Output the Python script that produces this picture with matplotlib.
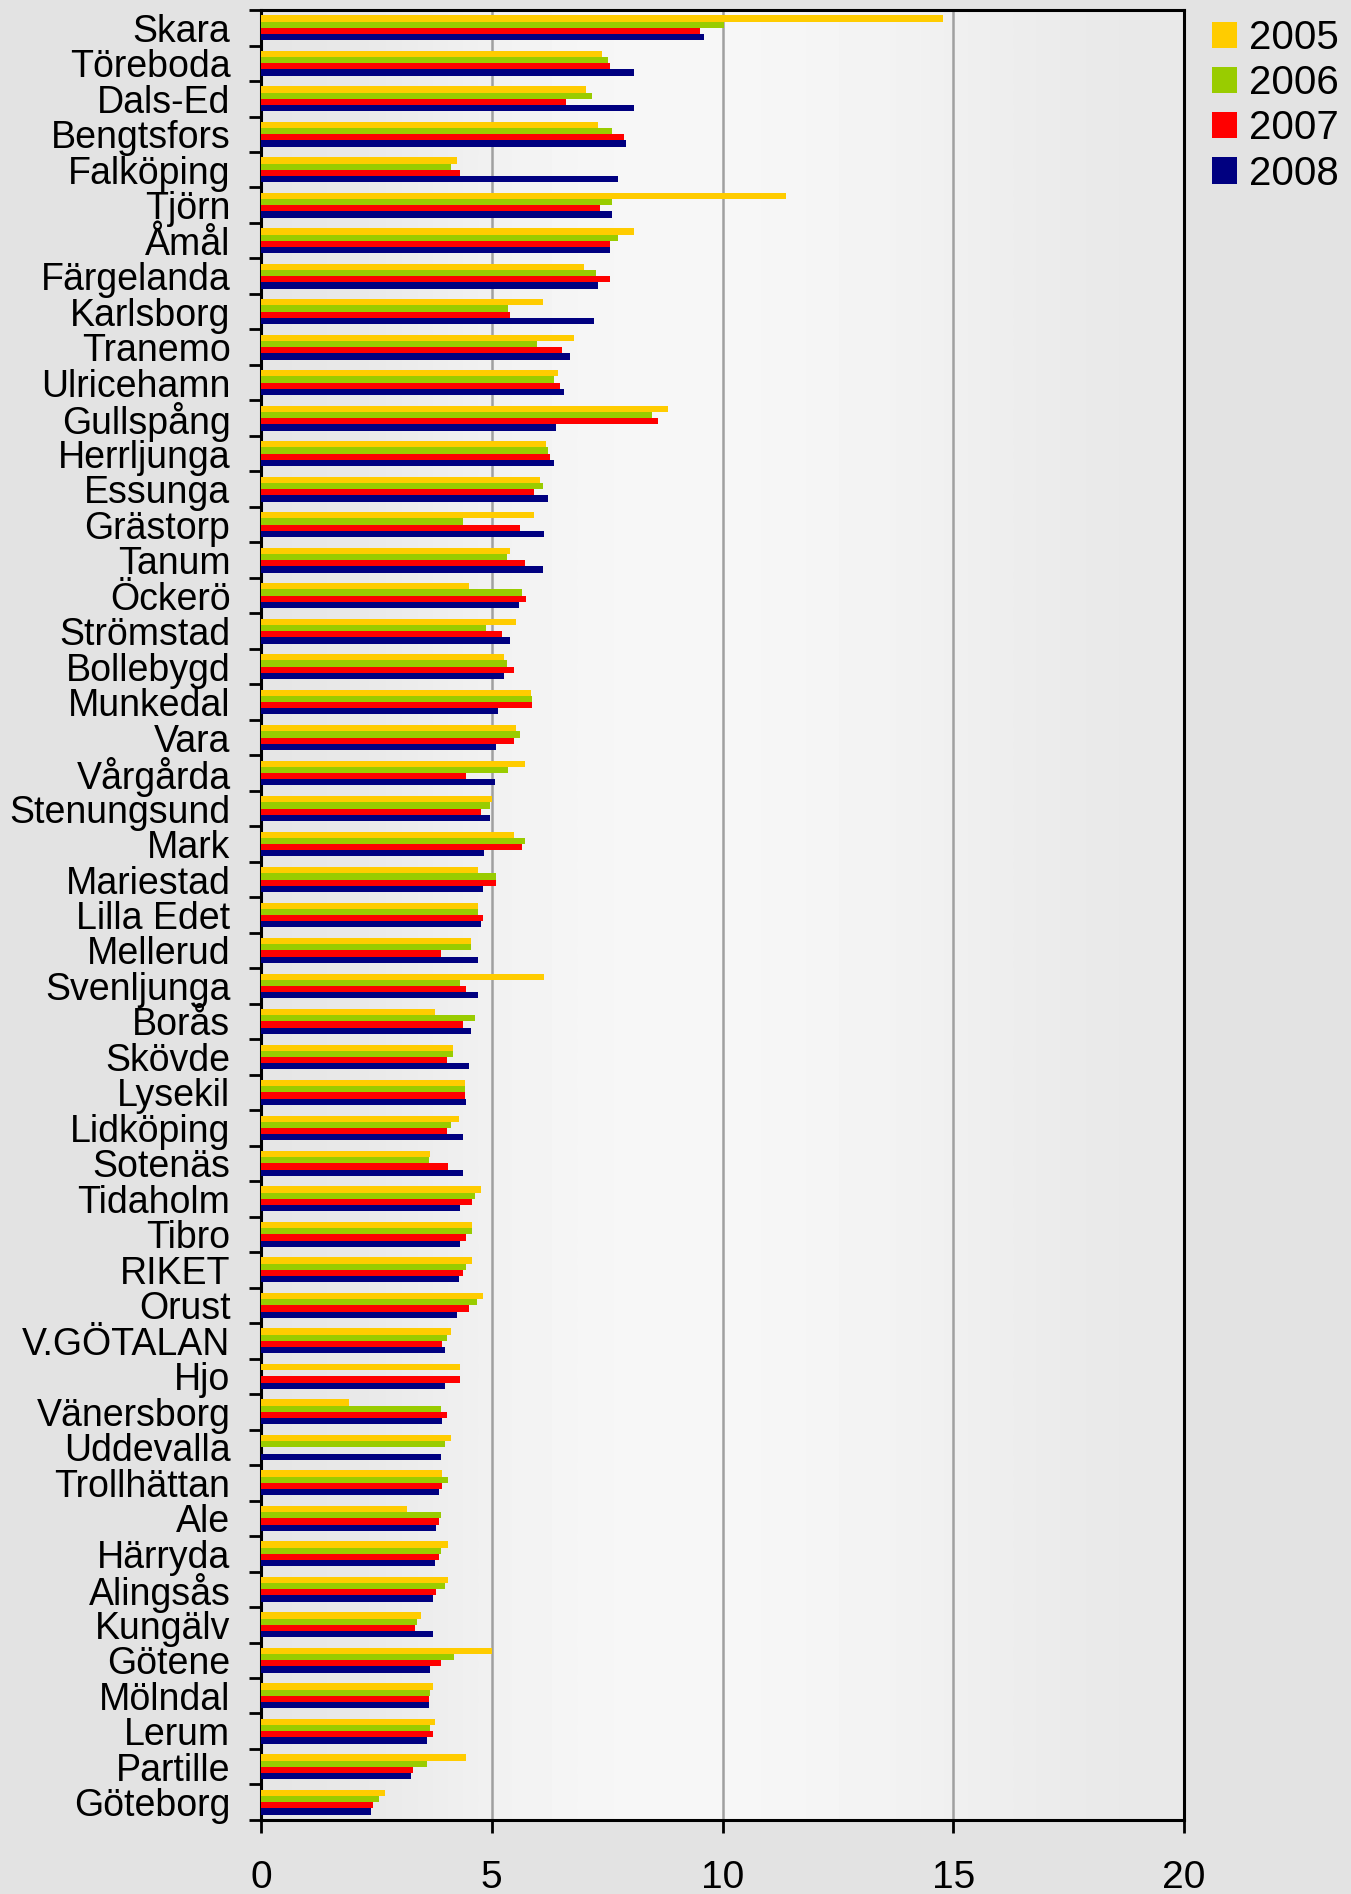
import matplotlib.pyplot as plt
import numpy as np

# Kommuner, top to bottom as in the chart
kommuner = ["Skara", "Töreboda", "Dals-Ed", "Bengtsfors", "Falköping", "Tjörn", "Åmål",
            "Färgelanda", "Karlsborg", "Tranemo", "Ulricehamn", "Gullspång", "Herrljunga",
            "Essunga", "Grästorp", "Tanum", "Öckerö", "Strömstad", "Bollebygd", "Munkedal",
            "Vara", "Vårgårda", "Stenungsund", "Mark", "Mariestad", "Lilla Edet", "Mellerud",
            "Svenljunga", "Borås", "Skövde", "Lysekil", "Lidköping", "Sotenäs", "Tidaholm",
            "Tibro", "RIKET", "Orust", "V.GÖTALAN", "Hjo", "Vänersborg", "Uddevalla",
            "Trollhättan", "Ale", "Härryda", "Alingsås", "Kungälv", "Götene", "Mölndal",
            "Lerum", "Partille", "Göteborg"]

v2005 = [14.78, 7.39, 7.05, 7.31, 4.24, 11.37, 8.08, 7.00, 6.10, 6.79, 6.44, 8.82, 6.18,
         6.05, 5.92, 5.40, 4.50, 5.53, 5.27, 5.84, 5.53, 5.71, 5.01, 5.49, 4.71, 4.71, 4.54,
         6.14, 3.76, 4.15, 4.41, 4.28, 3.67, 4.76, 4.58, 4.58, 4.80, 4.11, 4.32, 1.90, 4.11,
         3.93, 3.16, 4.06, 4.06, 3.46, 5.01, 3.72, 3.76, 4.45, 2.68]
v2006 = [10.03, 7.52, 7.18, 7.61, 4.11, 7.61, 7.74, 7.26, 5.36, 5.97, 6.35, 8.47, 6.22,
         6.10, 4.37, 5.32, 5.66, 4.88, 5.32, 5.88, 5.62, 5.36, 4.97, 5.71, 5.10, 4.71, 4.54,
         4.32, 4.63, 4.15, 4.41, 4.11, 3.63, 4.63, 4.58, 4.45, 4.67, 4.02, 0.0, 3.89, 3.98,
         4.06, 3.89, 3.89, 3.98, 3.37, 4.19, 3.67, 3.67, 3.59, 2.55]
v2007 = [9.51, 7.56, 6.61, 7.87, 4.32, 7.35, 7.56, 7.56, 5.40, 6.53, 6.48, 8.60, 6.27,
         5.92, 5.62, 5.71, 5.75, 5.23, 5.49, 5.88, 5.49, 4.45, 4.76, 5.66, 5.10, 4.80, 3.89,
         4.45, 4.37, 4.02, 4.41, 4.02, 4.06, 4.58, 4.45, 4.37, 4.50, 3.93, 4.32, 4.02, 0.0,
         3.93, 3.85, 3.85, 3.80, 3.33, 3.89, 3.63, 3.72, 3.29, 2.42]
v2008 = [9.60, 8.08, 8.08, 7.91, 7.74, 7.61, 7.56, 7.31, 7.22, 6.70, 6.57, 6.40, 6.35,
         6.22, 6.14, 6.10, 5.58, 5.40, 5.27, 5.14, 5.10, 5.06, 4.97, 4.84, 4.80, 4.76, 4.71,
         4.71, 4.54, 4.50, 4.45, 4.37, 4.37, 4.32, 4.32, 4.28, 4.24, 3.98, 3.98, 3.93, 3.89,
         3.85, 3.80, 3.76, 3.72, 3.72, 3.67, 3.63, 3.59, 3.24, 2.38]

years = ["2005", "2006", "2007", "2008"]
colors = ["#ffcc00", "#99cc00", "#ff0000", "#000080"]

plt.rcParams['font.family'] = ['Liberation Sans', 'DejaVu Sans']

fig = plt.figure(figsize=(13.51, 18.94), dpi=100, facecolor="#e3e3e3")
ax = fig.add_axes([0.1932, 0.0391, 0.8764 - 0.1932, 0.9947 - 0.0391])

# plot area background gradient
grad = np.array([[0.90, 0.93, 0.96, 0.97, 0.965, 0.95, 0.93, 0.91]])
ax.imshow(grad, cmap="gray", vmin=0, vmax=1, aspect="auto", extent=(0, 1, 0, 1),
          transform=ax.transAxes, interpolation="bicubic", zorder=0)

y = np.arange(len(kommuner))
h = 0.175
for i, (vals, col, lab) in enumerate(zip([v2005, v2006, v2007, v2008], colors, years)):
    ax.barh(y + (i - 1.5) * h, vals, height=h, color=col, label=lab, zorder=3)

ax.set_xlim(0, 20)
ax.set_ylim(len(kommuner) - 0.5, -0.5)
ax.set_xticks([0, 5, 10, 15, 20])
ax.set_yticks(y)
ax.set_yticklabels(kommuner)
ax.set_yticks(np.arange(len(kommuner) + 1) - 0.5, minor=True)
ax.tick_params(axis="y", which="major", length=0, pad=22, labelsize=27)
ax.tick_params(axis="y", which="minor", length=9, width=2, direction="out")
ax.tick_params(axis="x", length=9, width=2, pad=20, labelsize=28)

ax.grid(axis="x", color="#a0a0a0", linewidth=1.8, zorder=1)
ax.set_axisbelow(True)
for s in ax.spines.values():
    s.set_linewidth(2.2)

fig.legend(loc="upper left", bbox_to_anchor=(0.897, 0.99), frameon=False, fontsize=29,
           handlelength=0.62, handleheight=0.62, handletextpad=0.3, labelspacing=0.18,
           borderpad=0, borderaxespad=0)

plt.savefig("out.png", dpi=100, facecolor=fig.get_facecolor())
